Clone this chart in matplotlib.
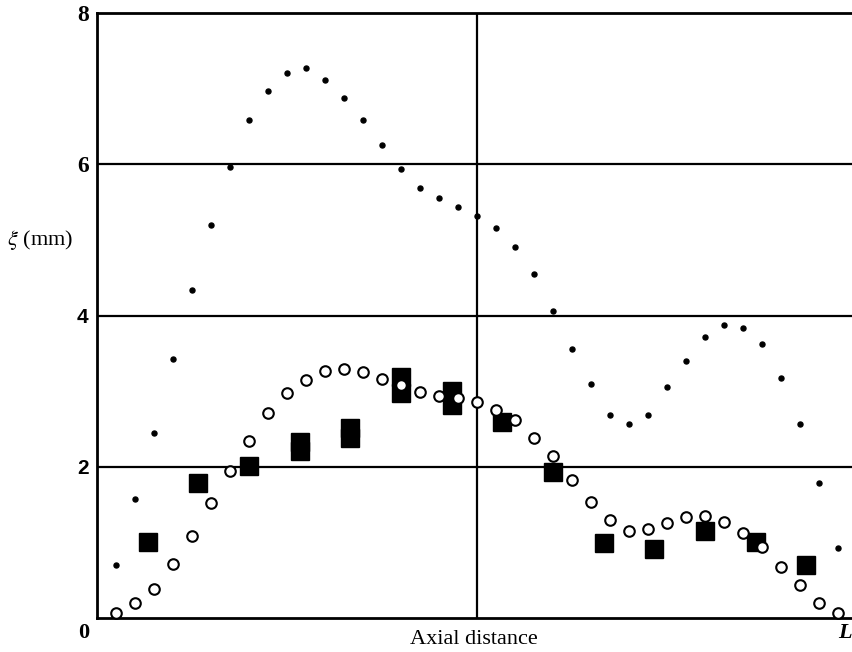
import matplotlib.pyplot as plt

plt.rcParams['mathtext.fontset'] = 'stix'

# axial positions as fraction of L (dots and circles share them)
x_pts = [0.025, 0.05, 0.075, 0.1, 0.125, 0.15, 0.175, 0.2, 0.225, 0.25,
         0.275, 0.3, 0.325, 0.35, 0.375, 0.4, 0.425, 0.45, 0.475, 0.5,
         0.525, 0.55, 0.575, 0.6, 0.625, 0.65, 0.675, 0.7, 0.725, 0.75,
         0.775, 0.8, 0.825, 0.85, 0.875, 0.9, 0.925, 0.95, 0.975]

# small dots
dots_y = [0.70, 1.57, 2.45, 3.42, 4.34, 5.20, 5.96, 6.58, 6.97, 7.21,
          7.27, 7.12, 6.88, 6.58, 6.25, 5.94, 5.69, 5.56, 5.43, 5.31,
          5.16, 4.90, 4.55, 4.06, 3.56, 3.09, 2.69, 2.56, 2.69, 3.06,
          3.40, 3.71, 3.87, 3.84, 3.62, 3.17, 2.56, 1.79, 0.93]

# open circles
circ_y = [0.07, 0.20, 0.39, 0.71, 1.09, 1.52, 1.95, 2.34, 2.71, 2.98,
          3.15, 3.27, 3.29, 3.25, 3.16, 3.08, 2.99, 2.94, 2.91, 2.85,
          2.75, 2.62, 2.38, 2.14, 1.82, 1.54, 1.29, 1.15, 1.18, 1.26,
          1.34, 1.35, 1.27, 1.13, 0.94, 0.67, 0.43, 0.20, 0.07]

# filled squares
sq_x = [0.067, 0.133, 0.2, 0.267, 0.333, 0.4, 0.467, 0.533, 0.6, 0.667,
        0.733, 0.8, 0.867, 0.933]
sq_y = [1.00, 1.79, 2.01, 2.33, 2.51, 3.19, 3.00, 2.59, 1.93, 0.99,
        0.91, 1.15, 1.01, 0.70]
# second reading where two squares overlap
sq_x2 = [0.267, 0.333, 0.4, 0.467]
sq_y2 = [2.21, 2.38, 2.98, 2.82]

W, H = 853, 652
fig = plt.figure(figsize=(W / 100, H / 100), dpi=100)
ax = fig.add_axes([97 / W, 34 / H, 760 / W, 605 / H])

ax.set_xlim(0, 1)
ax.set_ylim(0, 8)

for yv in [2, 4, 6]:
    ax.axhline(yv, color='black', lw=1.6, zorder=1)
ax.axvline(0.5, color='black', lw=1.6, zorder=1)

ax.plot(x_pts, dots_y, 'o', color='black', ms=3.6, zorder=3, clip_on=False)
ax.plot(sq_x, sq_y, 's', color='black', ms=13, zorder=3, clip_on=False)
ax.plot(sq_x2, sq_y2, 's', color='black', ms=13, zorder=3, clip_on=False)
ax.plot(x_pts, circ_y, 'o', mfc='white', mec='black', ms=7.6, mew=1.5,
        zorder=4, clip_on=False)

for s in ['left', 'top', 'bottom']:
    ax.spines[s].set_linewidth(2)
ax.spines['right'].set_visible(False)

ax.set_xticks([])
ax.set_yticks([2, 4, 6, 8])
ax.set_yticklabels(['2', '4', '6', '8'])
ax.tick_params(axis='y', length=0, pad=6)
for lab in ax.get_yticklabels():
    txt = lab.get_text()
    if txt in ('2', '4'):
        lab.set_fontfamily('Liberation Sans')
        lab.set_fontsize(15)
    else:
        lab.set_fontfamily('Liberation Serif')
        lab.set_fontsize(17)
    lab.set_fontweight('bold')


def px(x, y):
    return x / W, 1 - y / H


fig.text(*px(84, 633), '0', ha='center', va='center', fontsize=16,
         fontweight='bold', family='Liberation Serif')
fig.text(*px(474, 640), 'Axial distance', ha='center', va='center',
         fontsize=16, family='Liberation Serif')
fig.text(*px(40, 240), r'$\xi$ (mm)', ha='center', va='center', fontsize=16,
         family='Liberation Serif')
fig.text(*px(852, 633), 'L', ha='right', va='center', fontsize=16,
         fontweight='bold', fontstyle='italic', family='Liberation Serif')

fig.savefig('out.png', dpi=100)
